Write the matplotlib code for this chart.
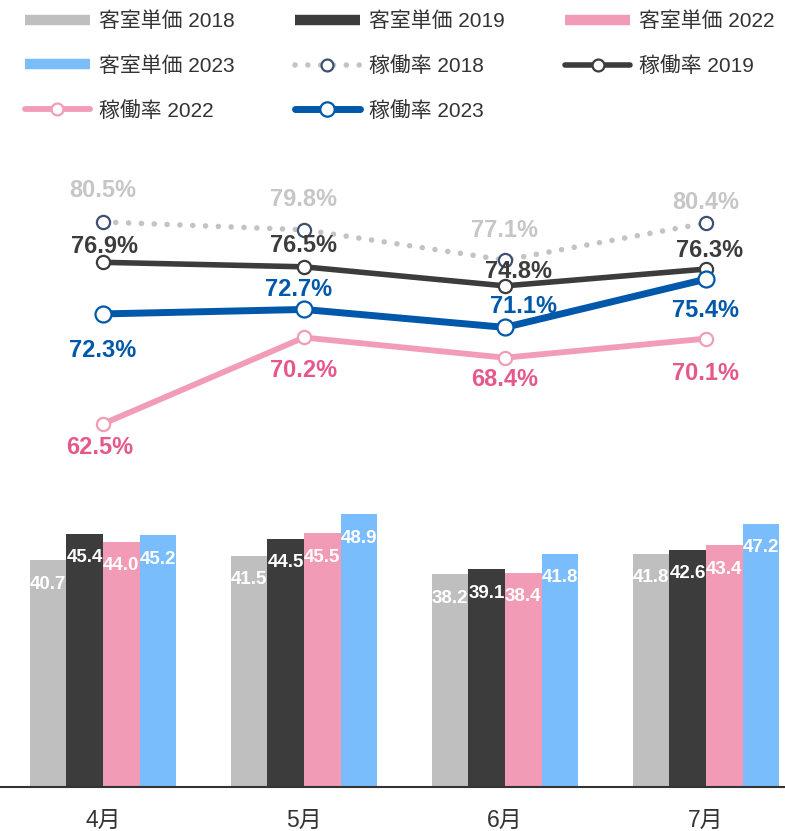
import matplotlib
matplotlib.use('Agg')
import matplotlib.pyplot as plt
from matplotlib.lines import Line2D
import numpy as np

# ---------------- data ----------------
months = ['4月', '5月', '6月', '7月']
years = ['2018', '2019', '2022', '2023']
price_2018 = [40.7, 41.5, 38.2, 41.8]
price_2019 = [45.4, 44.5, 39.1, 42.6]
price_2022 = [44.0, 45.5, 38.4, 43.4]
price_2023 = [45.2, 48.9, 41.8, 47.2]
occ_2018 = [80.5, 79.8, 77.1, 80.4]
occ_2019 = [76.9, 76.5, 74.8, 76.3]
occ_2022 = [62.5, 70.2, 68.4, 70.1]
occ_2023 = [72.3, 72.7, 71.1, 75.4]

prices = [price_2018, price_2019, price_2022, price_2023]
occs = [occ_2018, occ_2019, occ_2022, occ_2023]

# ---------------- style ----------------
bar_colors = ['#bfbfbf', '#3c3c3c', '#f19bb6', '#79bdfc']
line_colors = ['#c3c3c3', '#3c3c3c', '#f29db8', '#0058aa']
label_colors = ['#c6c6c6', '#3c3c3c', '#e6588a', '#0058aa']
marker_edges = ['#3d5073', '#3c3c3c', '#f29db8', '#0058aa']
line_widths = [4.0, 4.0, 4.2, 5.0]
marker_sizes = [9.5, 9.5, 9.5, 11.5]
# label offsets (pixels, relative to point)
label_dy = [[-31, -30, -30, -21],
            [-16, -21, -14, -19],
            [24, 33, 22, 35],
            [37, -20, -21, 31]]
label_dx = [[0, 0, 0, 0],
            [2, 0, 14, 4],
            [-3, 0, 0, 0],
            [0, -5, 19, 0]]

W, H = 785, 831
fig = plt.figure(figsize=(W / 100, H / 100), dpi=100)
ax = fig.add_axes([0, 44 / H, 1, 637 / H])
ax2 = ax.twinx()

x = np.arange(len(months))
bw = 0.1826
px2pt = 0.72

for k, (vals, col) in enumerate(zip(prices, bar_colors)):
    xs = x + (k - 1.5) * bw
    ax.bar(xs, vals, bw, color=col, linewidth=0, zorder=2)
    for xi, v in zip(xs, vals):
        ax.annotate(f'{v:.1f}', (xi, v), xytext=(0, -24 * px2pt),
                    textcoords='offset points', ha='center', va='center',
                    color='white', fontsize=13.5, fontweight='bold',
                    family='Liberation Sans', zorder=5)

ax.set_xlim(-0.512, 3.393)
ax.set_ylim(0, 114.26)
ax2.set_ylim(30.14, 86.91)

ls_list = [(0, (0.01, 2.3)), '-', '-', '-']
for k in range(4):
    vals = occs[k]
    ax2.plot(x, vals, color=line_colors[k], lw=line_widths[k],
             linestyle=ls_list[k], dash_capstyle='round',
             solid_capstyle='round', marker='o',
             markersize=marker_sizes[k], markerfacecolor='white',
             markeredgecolor=marker_edges[k], markeredgewidth=1.6,
             zorder=3 + k)
    for i, v in enumerate(vals):
        ax2.annotate(f'{v:.1f}%', (x[i], v),
                     xytext=(label_dx[k][i] * px2pt, -label_dy[k][i] * px2pt),
                     textcoords='offset points', ha='center', va='center',
                     color=label_colors[k], fontsize=17, fontweight='bold',
                     family='Liberation Sans', zorder=10)

for a in (ax, ax2):
    for s in ('top', 'left', 'right'):
        a.spines[s].set_visible(False)
    a.set_yticks([])
ax2.spines['bottom'].set_visible(False)
ax.spines['bottom'].set_color('#333333')
ax.spines['bottom'].set_linewidth(1.5)
ax.set_xticks(x)
ax.set_xticklabels(months, fontsize=16.5, color='#333333',
                   family=['Liberation Sans', 'Noto Sans CJK JP'])
ax.tick_params(axis='x', length=0, pad=15.5)
ax2.tick_params(axis='x', length=0)

# ---------------- legend ----------------
handles = []
labels = []
for k, y in enumerate(years):
    handles.append(Line2D([], [], color=bar_colors[k], lw=7.5,
                          solid_capstyle='butt'))
    labels.append(f'客室単価 {y}')
for k, y in enumerate(years):
    handles.append(Line2D([], [], color=line_colors[k], lw=line_widths[k],
                          linestyle=ls_list[k], dash_capstyle='round',
                          solid_capstyle='round', marker='o',
                          markersize=marker_sizes[k] * 0.9,
                          markerfacecolor='white',
                          markeredgecolor=marker_edges[k],
                          markeredgewidth=1.6))
    labels.append(f'稼働率 {y}')
order = [0, 3, 6, 1, 4, 7, 2, 5]
leg = fig.legend([handles[i] for i in order], [labels[i] for i in order],
                 ncol=3, loc='upper left',
                 bbox_to_anchor=(25 / W, 1 - 11.5 / H),
                 bbox_transform=fig.transFigure, frameon=False,
                 prop={'family': ['Liberation Sans', 'Noto Sans CJK JP'],
                       'size': 15},
                 handlelength=3.1, handletextpad=0.45, columnspacing=2.9,
                 labelspacing=1.19, borderpad=0, borderaxespad=0)
for t in leg.get_texts():
    t.set_color('#333333')

fig.savefig('out.png', dpi=100)
